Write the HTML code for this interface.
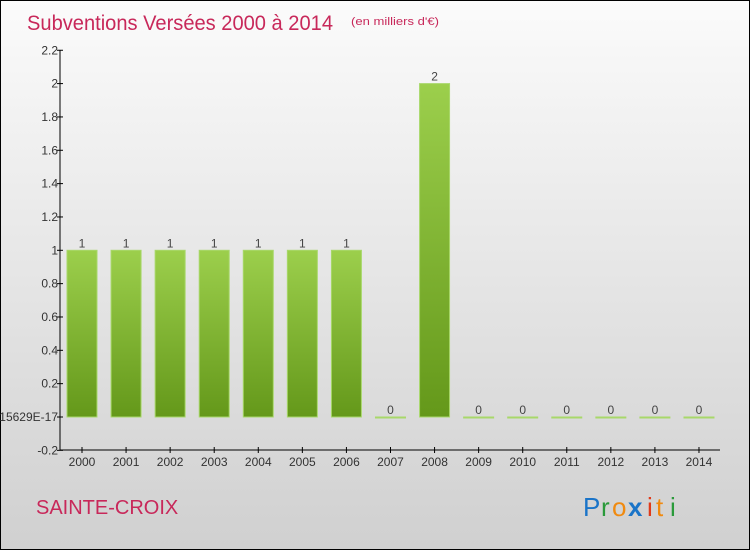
<!DOCTYPE html>
<html><head><meta charset="utf-8"><style>
html,body{margin:0;padding:0}
body{width:750px;height:550px;overflow:hidden}
svg{display:block;font-family:"Liberation Sans",sans-serif}
</style></head><body>
<svg width="750" height="550">
<defs>
<linearGradient id="bg" x1="0" y1="0" x2="0" y2="1"><stop offset="0" stop-color="#fbfbfb"/><stop offset="1" stop-color="#d0d0d0"/></linearGradient>
<linearGradient id="bar" x1="0" y1="0" x2="0" y2="1"><stop offset="0" stop-color="#9ccf4c"/><stop offset="1" stop-color="#64981a"/></linearGradient>
</defs>
<rect x="0.5" y="0.5" width="749" height="549" fill="url(#bg)" stroke="#000"/>
<text x="27" y="30" font-size="21" textLength="306" lengthAdjust="spacingAndGlyphs" fill="#c8285a">Subventions Versées 2000 à 2014</text>
<text x="351" y="25" font-size="11" textLength="88" lengthAdjust="spacingAndGlyphs" fill="#c8285a">(en milliers d'€)</text>
<text x="36" y="514" font-size="20" fill="#c8285a">SAINTE-CROIX</text>
<g font-size="26">
<text x="583" y="516" fill="#1a74c8">P</text><text x="601" y="516" fill="#2a9a3a">r</text><text x="612" y="516" fill="#f08a10">o</text><text x="628" y="516" fill="#1a74c8" font-weight="bold">x</text><text x="647" y="516" fill="#e03a1a">i</text><text x="656" y="516" fill="#f08a10">t</text><text x="670" y="516" fill="#2a9a3a">i</text>
</g>
<g id="axes"></g>
<g id="bars"></g>
</svg>
<script>
const years=["2000","2001","2002","2003","2004","2005","2006","2007","2008","2009","2010","2011","2012","2013","2014"];
const values=[1,1,1,1,1,1,1,0,2,0,0,0,0,0,0];
const yTicks=[-0.2,0,0.2,0.4,0.6,0.8,1,1.2,1.4,1.6,1.8,2,2.2];
const yTickLabels=["-0.2","5.55111515629E-17","0.2","0.4","0.6","0.8","1","1.2","1.4","1.6","1.8","2","2.2"];
const NS="http://www.w3.org/2000/svg";
const y=v=>417-166.7*v;
const x=i=>82+i*44.07;
const ax=document.getElementById('axes'),bg=document.getElementById('bars');
function mk(tag,attrs,parent){const e=document.createElementNS(NS,tag);for(const k in attrs)e.setAttribute(k,attrs[k]);parent.appendChild(e);return e;}
let l=mk('line',{x1:60,y1:y(2.2),x2:60,y2:450,stroke:'#000'},ax);


l=mk('line',{x1:60,y1:450,x2:720,y2:450,stroke:'#000'},ax);


yTicks.forEach((v,i)=>{
 const t=mk('line',{x1:57,x2:63,y1:y(v),y2:y(v),stroke:'#000'},ax);
 
 
 const tx=mk('text',{x:58,y:y(v)+4,'font-size':12,fill:'#333','text-anchor':'end'},ax);
 tx.textContent=yTickLabels[i];
 
 
});
years.forEach((yr,i)=>{
 const cx=x(i);
 const t=mk('line',{x1:cx,x2:cx,y1:447,y2:453,stroke:'#000'},ax);
 
 
 const tx=mk('text',{x:cx,y:466,'font-size':12,fill:'#333','text-anchor':'middle'},ax);
 tx.textContent=yr;
 
 
 const v=values[i];
 const top=Math.min(y(v),y(0)),h=Math.max(Math.abs(y(0)-y(v)),1);
 const r=mk('rect',{x:cx-15,y:top,width:30,height:h,fill:v?'url(#bar)':'#9ccf4c',stroke:'#a8d86a','stroke-width':1},bg);
 
 
 const vl=mk('text',{x:cx,y:top-3,'font-size':12,fill:'#444','text-anchor':'middle'},bg);
 vl.textContent=String(v);
 
 
});
</script>
</body></html>
